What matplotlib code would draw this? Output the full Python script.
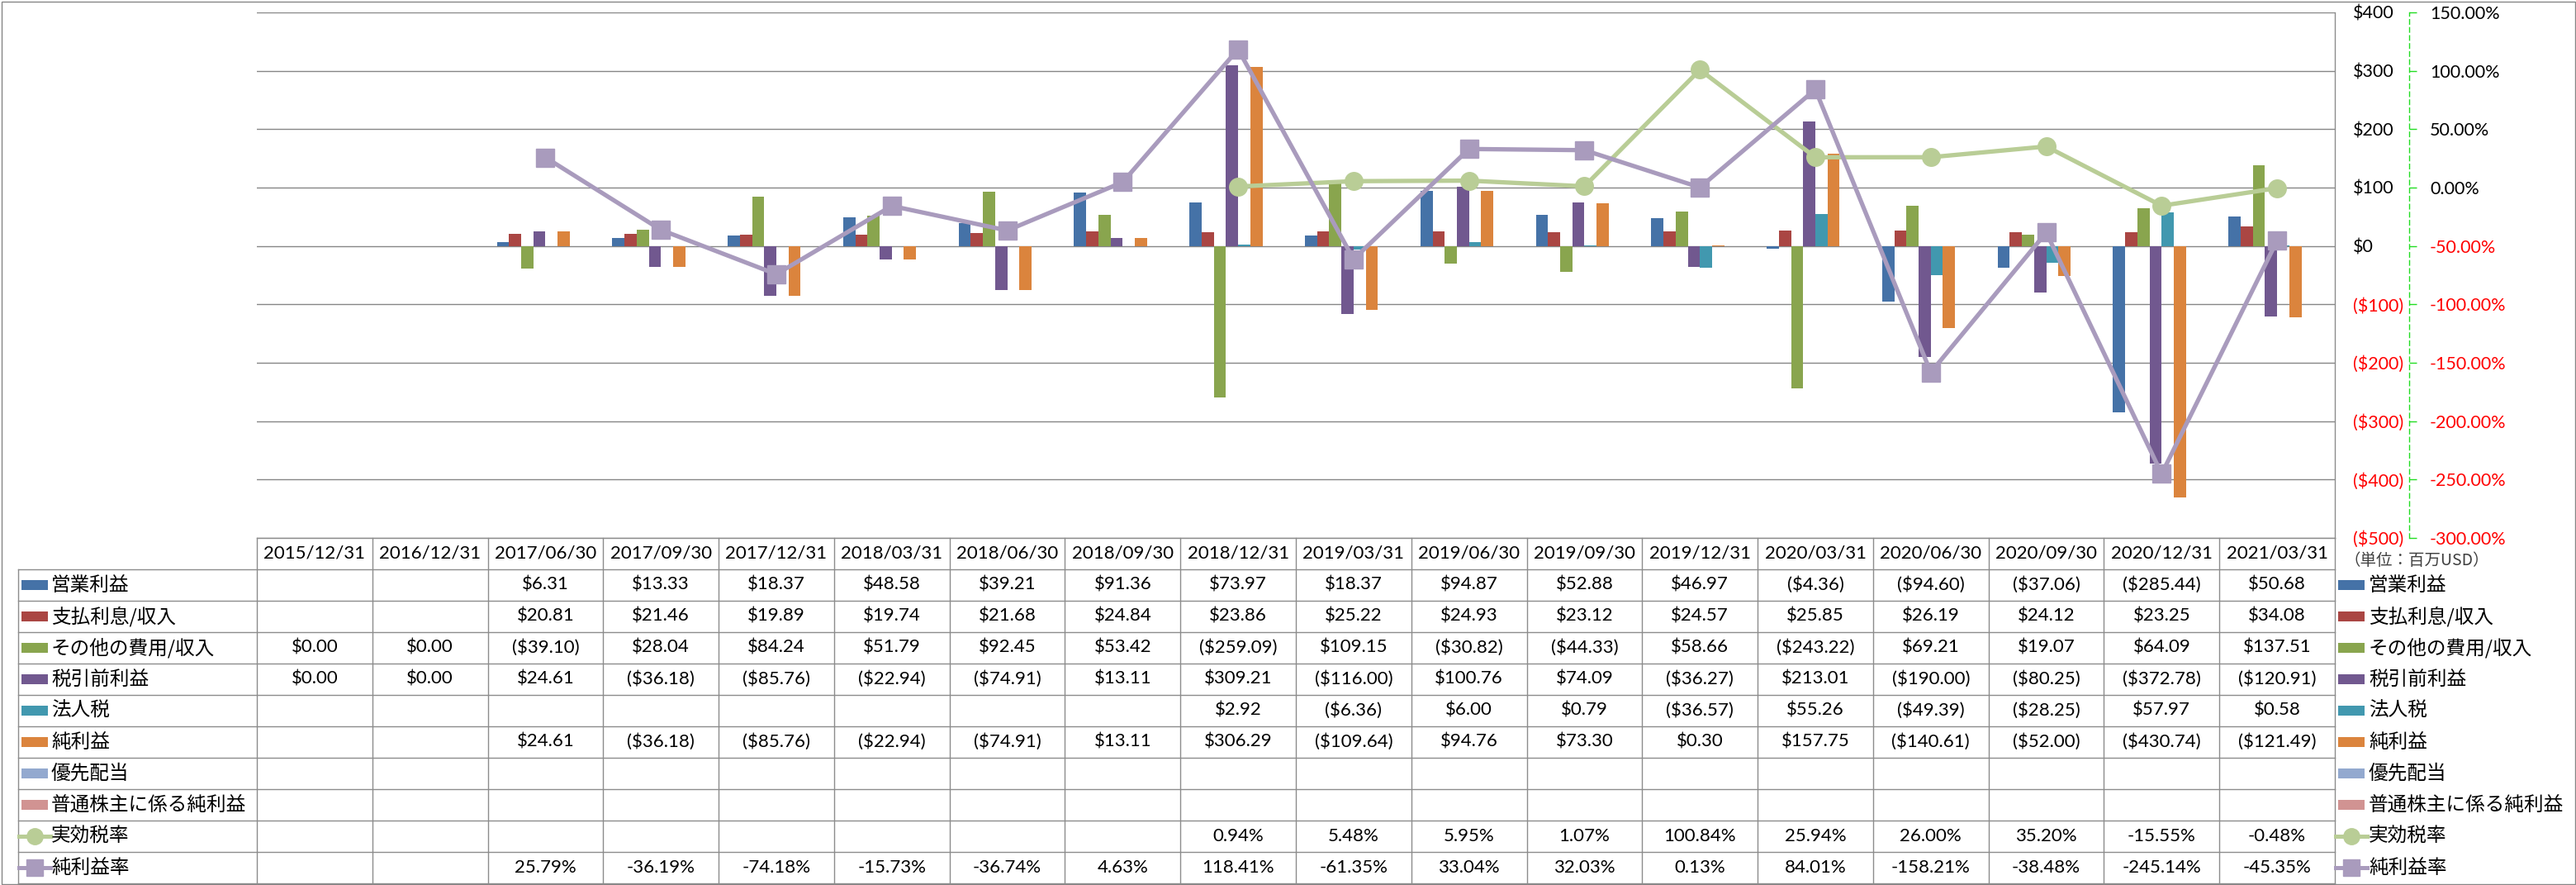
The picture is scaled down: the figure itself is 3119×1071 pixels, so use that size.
import numpy as np
import matplotlib
matplotlib.use('Agg')
import matplotlib.pyplot as plt
from matplotlib.lines import Line2D
from matplotlib.patches import Rectangle

# ---- data (百万USD / %) ----
dates = ['2015/12/31', '2016/12/31', '2017/06/30', '2017/09/30', '2017/12/31', '2018/03/31',
         '2018/06/30', '2018/09/30', '2018/12/31', '2019/03/31', '2019/06/30', '2019/09/30',
         '2019/12/31', '2020/03/31', '2020/06/30', '2020/09/30', '2020/12/31', '2021/03/31']

op_income = [None, None, 6.31, 13.33, 18.37, 48.58, 39.21, 91.36, 73.97, 18.37, 94.87, 52.88,
             46.97, -4.36, -94.60, -37.06, -285.44, 50.68]
interest = [None, None, 20.81, 21.46, 19.89, 19.74, 21.68, 24.84, 23.86, 25.22, 24.93, 23.12,
            24.57, 25.85, 26.19, 24.12, 23.25, 34.08]
other_exp = [0.00, 0.00, -39.10, 28.04, 84.24, 51.79, 92.45, 53.42, -259.09, 109.15, -30.82, -44.33,
             58.66, -243.22, 69.21, 19.07, 64.09, 137.51]
pretax = [0.00, 0.00, 24.61, -36.18, -85.76, -22.94, -74.91, 13.11, 309.21, -116.00, 100.76, 74.09,
          -36.27, 213.01, -190.00, -80.25, -372.78, -120.91]
income_tax = [None, None, None, None, None, None, None, None, 2.92, -6.36, 6.00, 0.79,
              -36.57, 55.26, -49.39, -28.25, 57.97, 0.58]
net_income = [None, None, 24.61, -36.18, -85.76, -22.94, -74.91, 13.11, 306.29, -109.64, 94.76, 73.30,
              0.30, 157.75, -140.61, -52.00, -430.74, -121.49]
pref_div = [None] * 18
net_common = [None] * 18

eff_tax_rate = [None, None, None, None, None, None, None, None, 0.94, 5.48, 5.95, 1.07,
                100.84, 25.94, 26.00, 35.20, -15.55, -0.48]
net_margin = [None, None, 25.79, -36.19, -74.18, -15.73, -36.74, 4.63, 118.41, -61.35, 33.04, 32.03,
              0.13, 84.01, -158.21, -38.48, -245.14, -45.35]

bar_names = ['営業利益', '支払利息/収入', 'その他の費用/収入', '税引前利益', '法人税', '純利益',
             '優先配当', '普通株主に係る純利益']
bar_series = [op_income, interest, other_exp, pretax, income_tax, net_income, pref_div, net_common]
bar_colors = ['#4572A7', '#AA4643', '#89A54E', '#71588F', '#4198AF', '#DB843D', '#93A9CF', '#D19392']

line_names = ['実効税率', '純利益率']
line_series = [eff_tax_rate, net_margin]
line_colors = ['#B9CD96', '#A99BBD']
line_markers = ['o', 's']

dollar_ticks = list(range(-500, 401, 100))
pct_ticks = list(range(-300, 151, 50))

NUM_FONT = ['Lato', 'DejaVu Sans']
JP_FONT = ['Noto Sans CJK JP', 'DejaVu Sans']
GRID = '#868686'
BORDER = '#8C8C8C'

# ---- layout in pixels ----
W, H = 3119, 1071
PL, PR, PT, PB = 311, 2827, 15, 651
ROW_H = 38.0
n = len(dates)
COL_W = (PR - PL) / n

fig = plt.figure(figsize=(W / 100, H / 100), dpi=100)

# overlay for the data table / legend
ov = fig.add_axes([0, 0, 1, 1])
ov.set_xlim(0, W)
ov.set_ylim(H, 0)
ov.axis('off')
ov.patch.set_visible(False)

ax = fig.add_axes([PL / W, 1 - PB / H, (PR - PL) / W, (PB - PT) / H])
ax.patch.set_alpha(0)

# ---- bars ----
x = np.arange(n)
w = 1 / (len(bar_series) + 1.5)
for i, (vals, col) in enumerate(zip(bar_series, bar_colors)):
    ax.bar(x + (i - (len(bar_series) - 1) / 2) * w, np.array(vals, dtype=float), width=w,
           color=col, linewidth=0, zorder=2)

ax.set_xlim(-0.5, n - 0.5)
ax.set_ylim(-500, 400)
ax.set_xticks([])
ax.grid(axis='y', color=GRID, linewidth=1.0)
ax.set_axisbelow(True)
for s in ['top', 'left', 'bottom']:
    ax.spines[s].set_visible(False)
ax.spines['right'].set_color(BORDER)
ax.spines['right'].set_linewidth(1.0)

# ---- lines on the % axis ----
ax2 = ax.twinx()
for vals, col, mk in zip(line_series, line_colors, line_markers):
    ax2.plot(x, np.array(vals, dtype=float), color=col, linewidth=3.8, marker=mk,
             markersize=15.5, markerfacecolor=col, markeredgecolor=col, zorder=3)
ax2.set_ylim(-300, 150)
for s in ['top', 'left', 'bottom']:
    ax2.spines[s].set_visible(False)
ax2.spines['right'].set_position(('axes', (2917 - PL) / (PR - PL)))
ax2.spines['right'].set_color('#22DD22')
ax2.spines['right'].set_linestyle((0, (4, 3)))
ax2.spines['right'].set_linewidth(1.0)

# dollar axis labels also on the right, next to the plot
ax.yaxis.tick_right()
ax.set_yticks(dollar_ticks, [f'${t}' if t >= 0 else f'(${-t})' for t in dollar_ticks])
ax.tick_params(axis='y', which='both', left=False, right=True, labelleft=False, labelright=True,
               length=0, pad=15.5, labelsize=15.5, labelfontfamily='Lato')

ax2.set_yticks(pct_ticks, [f'{t:.2f}%' for t in pct_ticks])
ax2.tick_params(axis='y', length=6.5, width=1.0, color='#22DD22', pad=11.5,
                labelsize=15.5, labelfontfamily='Lato')

for t, lab in zip(dollar_ticks, ax.get_yticklabels()):
    lab.set_color('red' if t < 0 else 'black')
for t, lab in zip(pct_ticks, ax2.get_yticklabels()):
    lab.set_color('red' if t < 0 else 'black')

ov.text(2838, 679, '（単位：百万USD）', fontfamily=JP_FONT, fontsize=14, color='#404040',
        ha='left', va='center')

# ---- data table ----
def fmt_usd(v):
    if v is None:
        return ''
    return f'(${-v:,.2f})' if v < 0 else f'${v:,.2f}'


def fmt_pct(v):
    return '' if v is None else f'{v:.2f}%'


rows = [(name, vals, fmt_usd) for name, vals in zip(bar_names, bar_series)]
rows += [(name, vals, fmt_pct) for name, vals in zip(line_names, line_series)]

top = PB
bottom = PB + ROW_H * (len(rows) + 1)

ov.plot([PL, PR], [top, top], color=BORDER, lw=1.0)
for k in range(1, len(rows) + 2):
    yk = top + k * ROW_H
    ov.plot([22, PR], [yk, yk], color=BORDER, lw=1.0)
ov.plot([22, 22], [top + ROW_H, bottom], color=BORDER, lw=1.0)
for j in range(n + 1):
    xj = PL + j * COL_W
    ov.plot([xj, xj], [top, bottom], color=BORDER, lw=1.0)

for j, d in enumerate(dates):
    ov.text(PL + (j + 0.5) * COL_W, top + ROW_H / 2, d, fontfamily=NUM_FONT, fontsize=16,
            ha='center', va='center')

for r, (name, vals, f) in enumerate(rows):
    yc = top + (r + 1.5) * ROW_H
    for j, v in enumerate(vals):
        s = f(v)
        if s:
            ov.text(PL + (j + 0.5) * COL_W, yc, s, fontfamily=NUM_FONT, fontsize=16,
                    ha='center', va='center')
    # legend keys: inside table (left) and at right side
    for kx, tx in [(26, 62), (2831, 2868)]:
        if r < len(bar_names):
            ov.add_patch(Rectangle((kx, yc - 6), 32, 12, color=bar_colors[r], lw=0))
        else:
            li = r - len(bar_names)
            ov.add_line(Line2D([kx - 3, kx + 35], [yc, yc], color=line_colors[li], lw=3.6))
            ov.plot([kx + 16], [yc], marker=line_markers[li], markersize=14,
                    color=line_colors[li])
        ov.text(tx, yc, name, fontfamily=JP_FONT, fontsize=17, ha='left', va='center')

# outer chart border
ov.add_patch(Rectangle((1.5, 1.5), W - 3, H - 3, fill=False, edgecolor=GRID, lw=1.0))

fig.savefig('out.png', dpi=100)
